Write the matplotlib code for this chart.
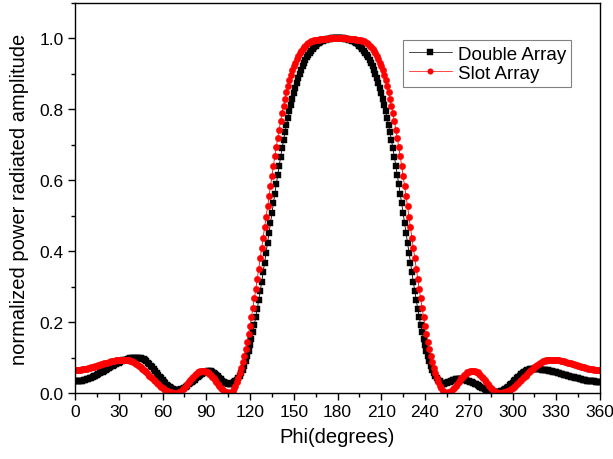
import numpy as np
import matplotlib
matplotlib.use("Agg")
import matplotlib.pyplot as plt
from matplotlib.ticker import MultipleLocator, FormatStrFormatter

plt.rcParams['font.family'] = ['Liberation Sans', 'DejaVu Sans']

# angle samples, one per degree
phi = np.arange(0, 361)

# values, phi = 0..360
double_array = [
    .033, .033, .033, .034, .034, .035, .036, .037, .039, .040,
    .042, .043, .045, .047, .049, .051, .053, .056, .058, .060,
    .063, .065, .068, .070, .073, .075, .077, .080, .082, .084,
    .086, .088, .090, .092, .093, .094, .096, .097, .098, .099,
    .099, .100, .100, .100, .100, .099, .097, .095, .092, .089,
    .086, .082, .077, .072, .067, .062, .057, .051, .046, .041,
    .036, .031, .027, .022, .019, .016, .013, .011, .009, .008,
    .008, .008, .009, .010, .012, .015, .017, .020, .024, .027,
    .031, .035, .038, .042, .046, .049, .052, .055, .057, .059,
    .060, .061, .061, .061, .059, .057, .054, .051, .047, .043,
    .039, .035, .032, .029, .027, .026, .025, .026, .028, .030,
    .033, .037, .042, .049, .057, .066, .077, .089, .103, .118,
    .135, .153, .172, .193, .215, .238, .262, .287, .313, .340,
    .367, .395, .423, .451, .479, .507, .535, .562, .589, .615,
    .641, .666, .690, .713, .735, .756, .776, .795, .813, .830,
    .846, .861, .875, .888, .900, .911, .921, .930, .939, .947,
    .954, .960, .966, .971, .976, .980, .984, .987, .990, .992,
    .994, .996, .997, .998, .999, .999, 1.00, 1.00, 1.00, 1.00,
    1.00, 1.00, 1.00, 1.00, 1.00, .999, .999, .998, .997, .996,
    .994, .992, .990, .987, .984, .980, .976, .971, .966, .960,
    .954, .947, .939, .930, .921, .911, .900, .888, .875, .861,
    .846, .830, .813, .795, .776, .756, .735, .713, .690, .666,
    .641, .615, .589, .562, .535, .507, .479, .451, .423, .395,
    .367, .340, .313, .287, .262, .238, .215, .193, .172, .153,
    .135, .118, .103, .089, .077, .066, .057, .049, .042, .037,
    .033, .029, .026, .026, .027, .028, .030, .032, .034, .036,
    .038, .039, .040, .040, .040, .039, .039, .038, .037, .035,
    .034, .032, .030, .028, .026, .024, .022, .019, .017, .015,
    .013, .011, .009, .008, .006, .005, .004, .004, .003, .003,
    .003, .004, .005, .007, .009, .012, .015, .018, .022, .026,
    .029, .034, .038, .042, .046, .049, .053, .056, .059, .062,
    .064, .066, .067, .068, .068, .068, .068, .068, .067, .067,
    .066, .066, .065, .065, .064, .063, .062, .061, .060, .059,
    .058, .057, .056, .055, .054, .052, .051, .050, .049, .048,
    .046, .045, .044, .043, .042, .041, .040, .039, .038, .037,
    .036, .035, .035, .034, .034, .033, .033, .032, .032, .032,
    .032,
]

slot_array = [
    .065, .065, .065, .066, .066, .067, .067, .068, .069, .070,
    .071, .072, .073, .074, .076, .077, .078, .080, .081, .082,
    .084, .085, .086, .087, .088, .089, .090, .091, .092, .093,
    .093, .093, .094, .094, .094, .094, .093, .092, .091, .089,
    .087, .085, .082, .080, .076, .073, .069, .066, .062, .058,
    .053, .049, .045, .041, .037, .033, .029, .025, .021, .018,
    .015, .012, .009, .007, .005, .003, .002, .001, .000, .000,
    .001, .002, .004, .007, .011, .015, .020, .025, .030, .036,
    .041, .046, .050, .054, .058, .060, .062, .063, .063, .062,
    .060, .058, .054, .050, .046, .041, .036, .030, .025, .020,
    .015, .011, .007, .004, .002, .001, .001, .003, .007, .013,
    .021, .031, .043, .056, .071, .087, .105, .124, .145, .167,
    .190, .214, .240, .267, .294, .322, .351, .380, .409, .438,
    .468, .497, .527, .556, .585, .613, .641, .668, .694, .719,
    .743, .767, .789, .810, .830, .848, .866, .882, .897, .910,
    .922, .932, .942, .950, .958, .964, .970, .975, .980, .984,
    .987, .990, .992, .994, .995, .996, .997, .997, .998, .998,
    .999, .999, .999, .999, 1.00, 1.00, 1.00, 1.00, 1.00, 1.00,
    1.00, 1.00, 1.00, 1.00, 1.00, 1.00, 1.00, .999, .999, .999,
    .999, .998, .998, .997, .997, .996, .995, .994, .992, .990,
    .987, .984, .980, .975, .970, .964, .958, .950, .942, .932,
    .922, .910, .897, .882, .866, .848, .830, .810, .789, .767,
    .743, .719, .694, .668, .641, .613, .585, .556, .527, .497,
    .468, .438, .409, .380, .351, .322, .294, .267, .240, .214,
    .190, .167, .145, .124, .105, .087, .071, .056, .043, .031,
    .021, .013, .007, .003, .001, .001, .002, .004, .007, .011,
    .015, .020, .025, .030, .036, .041, .046, .050, .054, .058,
    .060, .062, .063, .063, .062, .060, .058, .054, .050, .046,
    .041, .036, .030, .025, .020, .015, .011, .007, .004, .002,
    .001, .000, .000, .001, .002, .003, .005, .007, .009, .012,
    .015, .018, .021, .025, .029, .033, .037, .041, .045, .049,
    .053, .058, .062, .066, .069, .073, .076, .080, .082, .085,
    .087, .089, .091, .092, .093, .094, .094, .094, .094, .093,
    .093, .093, .092, .091, .090, .089, .088, .087, .086, .085,
    .084, .082, .081, .080, .078, .077, .076, .074, .073, .072,
    .071, .070, .069, .068, .067, .067, .066, .066, .065, .065,
    .065,
]

x_ticks = np.arange(0, 361, 30)
y_ticks = np.arange(0, 1.01, 0.2)

fig = plt.figure(figsize=(6.13, 4.60), dpi=100)
ax = fig.add_axes([75 / 613, 66 / 460, 525 / 613, 390 / 460])

ax.plot(phi, double_array, color='black', lw=0.6, marker='s', ms=4.2,
        mfc='black', mec='black', mew=0.3, label='Double Array')
ax.plot(phi, slot_array, color='red', lw=0.6, marker='o', ms=4.6,
        mfc='red', mec='red', mew=0.3, label='Slot Array')

ax.set_xlim(0, 360)
ax.set_ylim(0, 1.1)
ax.set_xticks(x_ticks)
ax.set_yticks(y_ticks)
ax.xaxis.set_minor_locator(MultipleLocator(15))
ax.yaxis.set_minor_locator(MultipleLocator(0.1))
ax.yaxis.set_major_formatter(FormatStrFormatter('%.1f'))

ax.tick_params(which='both', direction='out', top=False, right=False,
               width=1.0, labelsize=12.5, pad=3)
ax.tick_params(which='major', length=5)
ax.tick_params(which='minor', length=3)
for s in ax.spines.values():
    s.set_linewidth(1.0)

ax.set_xlabel('Phi(degrees)', fontsize=14.5, labelpad=6)
ax.set_ylabel('normalized power radiated amplitude', fontsize=14.5, labelpad=8)

leg = ax.legend(loc='upper left', bbox_to_anchor=(0.625, 0.905),
                fontsize=13.5, frameon=True, fancybox=False,
                edgecolor='#808080', framealpha=1, borderpad=0.3,
                labelspacing=0.1, handlelength=2.3, handletextpad=0.3,
                borderaxespad=0, numpoints=1)
leg.get_frame().set_linewidth(0.8)
for h in leg.get_lines():
    h.set_linewidth(0.5)
    h.set_markersize(4.0)

fig.savefig('out.png', dpi=100)
